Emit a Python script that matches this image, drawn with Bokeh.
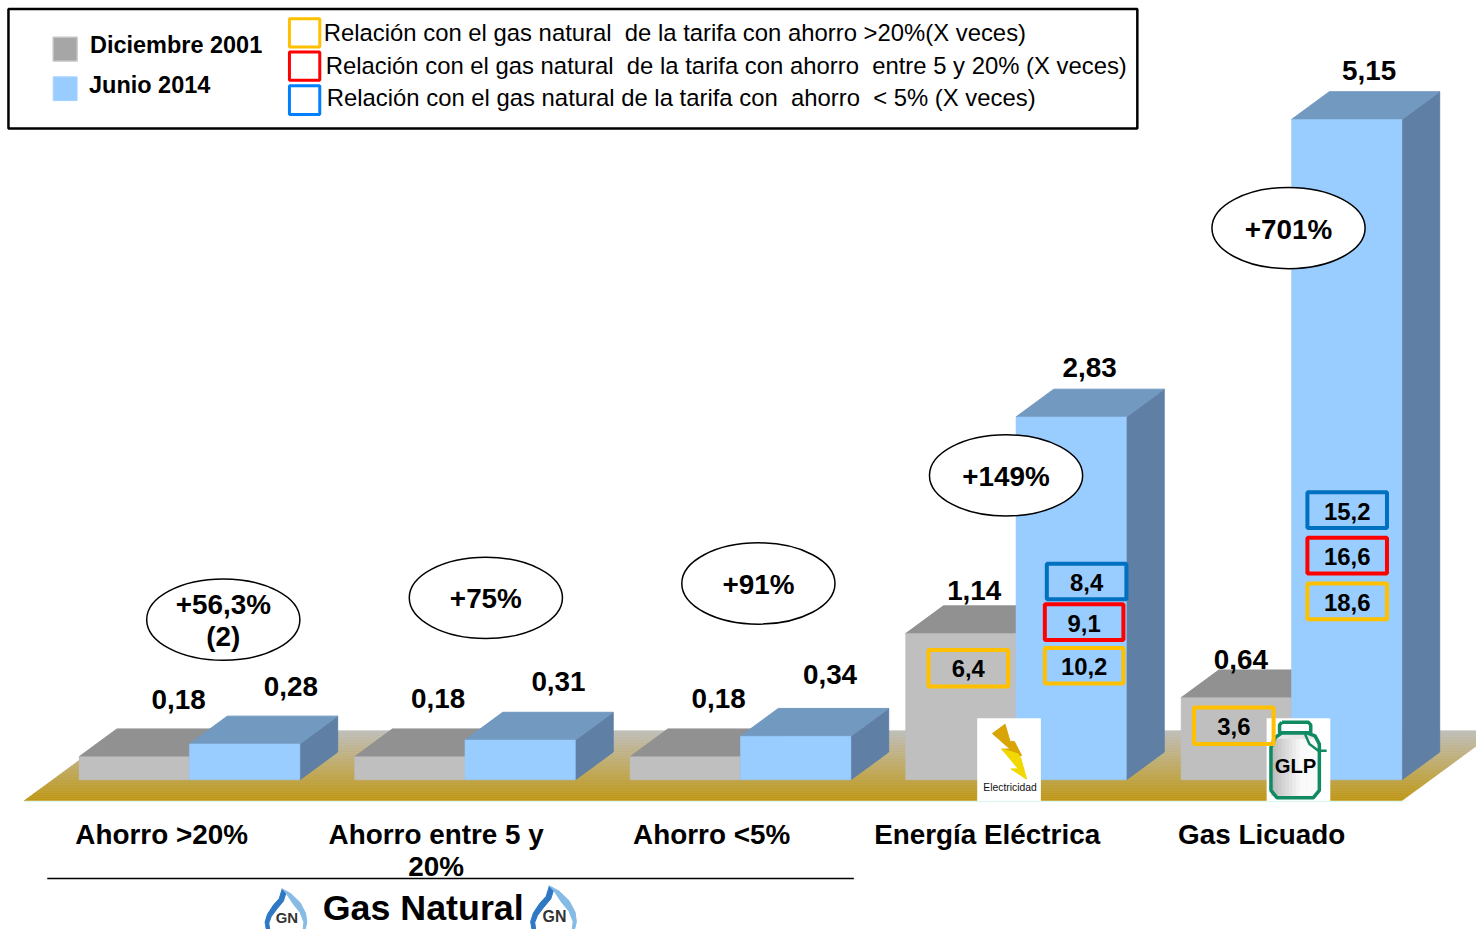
from bokeh.plotting import figure
from bokeh.models import Range1d
from bokeh.core.properties import value
from bokeh.embed import file_html
from bokeh.resources import INLINE

# ---- data ----
categories = ["Ahorro >20%", "Ahorro entre 5 y\n20%", "Ahorro <5%", "Energía Eléctrica", "Gas Licuado"]
dic_2001 = [0.18, 0.18, 0.18, 1.14, 0.64]
jun_2014 = [0.28, 0.31, 0.34, 2.83, 5.15]
changes = ["+56,3%\n(2)", "+75%", "+91%", "+149%", "+701%"]
rel_dic = {3: ["6,4"], 4: ["3,6"]}
rel_jun = {3: ["10,2", "9,1", "8,4"], 4: ["18,6", "16,6", "15,2"]}
series_names = ["Diciembre 2001", "Junio 2014"]
legend_texts = ["Relación con el gas natural \u00a0de la tarifa con ahorro >20%(X veces)",
                "Relación con el gas natural \u00a0de la tarifa con ahorro \u00a0entre 5 y 20% (X veces)",
                "Relación con el gas natural de la tarifa con \u00a0ahorro \u00a0< 5% (X veces)"]
group_title = "Gas Natural"

# ---- layout (pixels of the reference picture, fitted into the page) ----
BASE = 786.0
PPU = 129.32
W, H = 1476, 929
FS = W / 1484
def Y(py):
    return (BASE - py) / PPU
def py_of(v):
    return BASE - v * PPU

FONT = value("Liberation Sans")
p = figure(width=W, height=H, output_backend="svg", toolbar_location=None,
           x_range=Range1d(0, 1484), y_range=Range1d(Y(937), Y(0)),
           x_axis_type=None, y_axis_type=None, min_border=0)
p.grid.visible = False
p.outline_line_color = None
p.background_fill_color = "white"
p.border_fill_color = "white"

def poly(pts, fill, line=None, lw=1.0):
    p.patch([a for a, _ in pts], [Y(b) for _, b in pts], fill_color=fill,
            line_color=line if line else fill, line_width=lw)

def label(x, py, t, size, bold=True, align="center", color="black", font=FONT):
    for i, part in enumerate(t.split("\n")):
        p.text([x], [Y(py + i * 32)], text=[part], text_font=font, text_font_size=f"{size * FS:.2f}px",
               text_font_style="bold" if bold else "normal", text_align=align,
               text_baseline="middle", text_color=color)

def box(x0, x1, y0, y1, col, lw=4):
    p.quad(left=[x0], right=[x1], top=[Y(y0)], bottom=[Y(y1)], fill_color=None, line_color=col, line_width=lw)

# ---- floor ----
FT, FB = 736.5, 807.0
SL = 38 / 28
c_top = (192, 191, 188)
c_bot = (191, 152, 22)
n = 35
for i in range(n):
    y0 = FT + (FB - FT) * i / n
    y1 = FT + (FB - FT) * (i + 1) / n
    t = (i + .5) / n
    col = "#%02x%02x%02x" % tuple(int(c_top[k] + (c_bot[k] - c_top[k]) * t) for k in range(3))
    poly([(24 + (FB - y0) * SL, y0), (1409 + (FB - y0) * SL, y0),
          (1409 + (FB - y1) * SL, y1), (24 + (FB - y1) * SL, y1)], col, col, 0.6)
p.line([24, 1409], [Y(808), Y(808)], line_color="#d4f7ee", line_width=1)

# ---- 3D bars ----
DX, DY = 38, 28
BW = 111
G0, GS = 190, 277
GRAY_FRONT, GRAY_TOP, GRAY_SIDE = "#bfbfbf", "#919191", "#7f7f7f"
BLUE_FRONT, BLUE_TOP, BLUE_SIDE = "#99ccff", "#7299bf", "#5f7fa5"

def bar3d(x0, v, front, top, side):
    x1 = x0 + BW
    t = py_of(v)
    poly([(x1, t), (x1 + DX, t - DY), (x1 + DX, BASE - DY), (x1, BASE)], side)
    poly([(x0, t), (x0 + DX, t - DY), (x1 + DX, t - DY), (x1, t)], top)
    p.quad(left=[x0], right=[x1], bottom=[0], top=[v], fill_color=front, line_color=front, line_width=0.5)

for i in range(5):
    c = G0 + i * GS
    bar3d(c - BW, dic_2001[i], GRAY_FRONT, GRAY_TOP, GRAY_SIDE)
    bar3d(c, jun_2014[i], BLUE_FRONT, BLUE_TOP, BLUE_SIDE)

# ---- value labels ----
dic_lab = [(179, 705), (440, 704), (722, 704), (979, 595), (1247, 665)]
jun_lab = [(292, 692), (561, 687), (834, 680), (1095, 370), (1376, 71)]
for i in range(5):
    label(dic_lab[i][0], dic_lab[i][1], f"{dic_2001[i]:.2f}".replace(".", ","), 28)
    label(jun_lab[i][0], jun_lab[i][1], f"{jun_2014[i]:.2f}".replace(".", ","), 28)

# ---- % change ellipses ----
ell = [(224, 624.5), (488, 602.5), (762, 588), (1011, 479), (1295, 229.5)]
for (x, y), t in zip(ell, changes):
    p.ellipse(x=[x], y=[Y(y)], width=154, height=82 / PPU, fill_color="white",
              line_color="black", line_width=1.5)
    if "\n" in t:
        label(x, y - 15, t, 28)
    else:
        label(x, y + 1, t, 28)

# ---- electricity icon ----
p.quad(left=[982], right=[1046], top=[Y(724)], bottom=[Y(807.5)], fill_color="white", line_color=None)
def zp(pts, ox=960, oy=640):
    return [(ox + a / 3, oy + b / 3) for a, b in pts]
poly(zp([(150, 270), (112, 298), (165, 345), (140, 345), (160, 365), (200, 365), (178, 322), (165, 322)]), "#d9a406")
poly(zp([(140, 345), (190, 405), (168, 405), (215, 436), (198, 375), (190, 360), (160, 350)]), "#f0d800")
label(1015, 794, "Electricidad", 10.4, bold=False, color="#111111")

# ---- GLP icon ----
p.quad(left=[1273], right=[1337], top=[Y(724)], bottom=[Y(807.5)], fill_color="white", line_color=None)
GREEN = "#0f8a62"
body = zp([(985, 296), (1060, 296), (1085, 305), (1098, 330), (1098, 470), (1080, 492),
           (970, 492), (952, 470), (952, 340), (965, 310)])
poly(body, "#e6e6e6", "#e6e6e6", 0.5)
steps = 14
for k in range(steps):
    xa = 1278 + 49 * k / steps
    xb = 1278 + 49 * (k + 1) / steps
    g = int(185 + 65 * min(1, (k + .5) / (steps * .6)))
    col = "#%02x%02x%02x" % (g, g, g)
    p.quad(left=[xa], right=[xb], top=[Y(745)], bottom=[Y(802)], fill_color=col, line_color=col, line_width=0.3)
bx = [a for a, _ in body] + [body[0][0]]
by = [Y(b) for _, b in body] + [Y(body[0][1])]
p.line(bx, by, line_color=GREEN, line_width=3.5)
cap = zp([(985, 264), (1065, 264), (1072, 272), (1072, 296), (978, 296), (978, 272), (985, 264)])
p.line([a for a, _ in cap], [Y(b) for _, b in cap], line_color=GREEN, line_width=3.5)
hd = zp([(1055, 300), (1068, 330), (1095, 350), (1120, 350)])
p.line([a for a, _ in hd], [Y(b) for _, b in hd], line_color=GREEN, line_width=2.5)
label(1302, 772, "GLP", 20.4, bold=True)

# ---- ratio boxes ----
YEL, RED, BLU = "#ffc000", "#ff0000", "#0070c0"
dic_box = {3: (933, 1013, 655, 692, 973, 674), 4: (1200, 1280, 713, 750, 1240, 732)}
for i, (x0, x1, y0, y1, tx, ty) in dic_box.items():
    box(x0, x1, y0, y1, YEL)
    label(tx, ty, rel_dic[i][0], 24)
jun_box = {3: [(1050, 1129, 653, 689), (1050, 1129, 609, 645), (1052, 1132, 568, 604)],
           4: [(1314, 1394, 588, 624), (1314, 1394, 542, 578), (1314, 1394, 496, 532)]}
for i, rows in jun_box.items():
    for (x0, x1, y0, y1), col, t in zip(rows, [YEL, RED, BLU], rel_jun[i]):
        box(x0, x1, y0, y1, col)
        label((x0 + x1) / 2, (y0 + y1) / 2 + 1, t, 24)

# ---- category labels ----
cat_x = [162, 438, 715, 992, 1268]
for x, t in zip(cat_x, categories):
    label(x, 841, t, 28)

# ---- group bracket ----
p.line([47, 858], [Y(885.5), Y(885.5)], line_color="black", line_width=1.5)
label(324, 915, group_title, 36, align="left")

def drop(x0, top, w, h, tx, ty, txt_size):
    # crescent flame logo
    l = [(0.03, 1.0), (0.0, 0.82), (0.06, 0.62), (0.20, 0.40), (0.34, 0.24), (0.41, 0.0), (0.50, 0.10), (0.44, 0.30),
         (0.28, 0.50), (0.15, 0.68), (0.09, 0.84), (0.11, 1.0)]
    r = [(0.41, 0.0), (0.62, 0.12), (0.84, 0.34), (0.97, 0.60), (1.0, 0.82), (0.96, 1.0), (0.91, 1.0), (0.93, 0.82),
         (0.84, 0.58), (0.68, 0.38), (0.50, 0.10)]
    poly([(x0 + a * w, top + b * h) for a, b in l], "#2f79c4")
    poly([(x0 + a * w, top + b * h) for a, b in r], "#86bbe6")
    label(tx, ty, "GN", txt_size, color="#333333")

drop(266, 896, 42, 41, 288, 925, 15)
drop(533, 893, 46, 44, 557, 924, 16)

# ---- legend ----
p.quad(left=[8], right=[1143], top=[Y(8.5)], bottom=[Y(129)], fill_color=None, line_color="black", line_width=2.5)
p.quad(left=[53], right=[77], top=[Y(37)], bottom=[Y(61)], fill_color="#a6a6a6", line_color="#c4c4c4", line_width=1.5)
p.quad(left=[53], right=[77], top=[Y(77)], bottom=[Y(101)], fill_color="#99ccff", line_color="#a8d4ff", line_width=1)
label(90, 45, series_names[0], 23.6, align="left")
label(89, 85, series_names[1], 23.6, align="left")
box(290.5, 321, 18.5, 47, "#ffc000", 3)
box(290.5, 321, 52, 80.5, "#ff0000", 3)
box(290.5, 321, 86, 115, "#0080ff", 3)
label(325, 32, legend_texts[0], 24, bold=False, align="left")
label(327, 66, legend_texts[1], 24, bold=False, align="left")
label(328, 98, legend_texts[2], 24, bold=False, align="left")

open("out.html", "w").write(file_html(p, INLINE))
